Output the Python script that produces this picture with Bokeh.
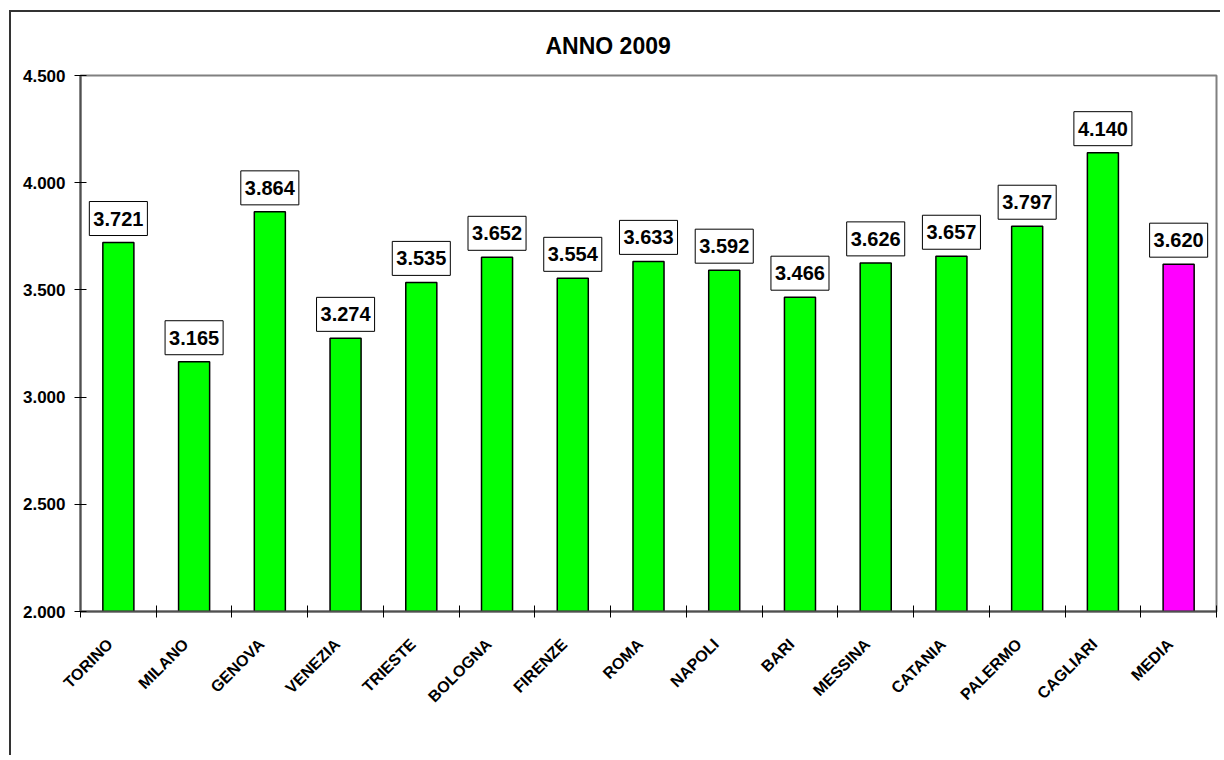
from math import pi
from bokeh.plotting import figure
from bokeh.models import Range1d, FixedTicker, Label, ColumnDataSource
from bokeh.embed import file_html
from bokeh.resources import INLINE

# ---- data ----
cities = ["TORINO", "MILANO", "GENOVA", "VENEZIA", "TRIESTE", "BOLOGNA", "FIRENZE",
          "ROMA", "NAPOLI", "BARI", "MESSINA", "CATANIA", "PALERMO", "CAGLIARI", "MEDIA"]
values = [3721, 3165, 3864, 3274, 3535, 3652, 3554, 3633, 3592, 3466, 3626, 3657, 3797, 4140, 3620]
bar_colors = ["#00FF00"] * 14 + ["#FF00FF"]
y_ticks = [2000, 2500, 3000, 3500, 4000, 4500]
chart_title = "ANNO 2009"


def it_fmt(v):
    return f"{v:,}".replace(",", ".")


FONT = "Liberation Sans"
SHIFT = 0.11  # labels sit slightly left of the bar centre, as in the original
n = len(cities)
label_pos = list(range(n))
bar_x = [i + SHIFT for i in label_pos]
src = ColumnDataSource(dict(x=bar_x, top=values, color=bar_colors, city=cities))

p = figure(width=1211, height=745,
           x_range=Range1d(-0.5 + SHIFT, n - 0.5 + SHIFT),
           y_range=Range1d(y_ticks[0], y_ticks[-1]),
           output_backend="svg", toolbar_location=None,
           min_border_left=69, min_border_right=6,
           min_border_top=63, min_border_bottom=146)
p.margin = (10, 0, 0, 9)
p.styles = {"border-left": "2px solid #333333", "border-top": "2px solid #333333"}

p.vbar(x="x", top="top", bottom=y_ticks[0], width=0.41, source=src,
       fill_color="color", line_color="black", line_width=1.5)

for xi, v in zip(bar_x, values):
    p.add_layout(Label(x=xi, y=v, text=it_fmt(v), text_align="center", text_baseline="bottom",
                       y_offset=7, text_font=FONT, text_font_size="20px",
                       text_font_style="bold", text_color="black",
                       background_fill_color="white", border_line_color="black",
                       border_line_width=1, padding=(4, 10)))

# title
p.title.text = chart_title
p.title.text_font = FONT
p.title.text_font_size = "23px"
p.title.text_font_style = "bold"
p.title.text_color = "black"
p.title.align = "left"
p.title.offset = 465
p.title.standoff = 34

# grid / outline
p.xgrid.visible = False
p.ygrid.visible = False
p.outline_line_color = "#808080"
p.outline_line_width = 2
p.background_fill_color = "white"
p.border_fill_color = "white"

# y axis
p.yaxis.ticker = FixedTicker(ticks=y_ticks)
p.yaxis.major_label_overrides = {t: it_fmt(t) for t in y_ticks}
p.yaxis.major_label_text_font = FONT
p.yaxis.major_label_text_font_size = "17px"
p.yaxis.major_label_text_font_style = "bold"
p.yaxis.major_label_text_color = "black"
p.yaxis.major_tick_in = 6
p.yaxis.major_tick_out = 6
p.yaxis.major_tick_line_color = "black"
p.yaxis.minor_tick_line_color = None
p.yaxis.axis_line_color = "#505050"
p.yaxis.axis_line_width = 2
p.yaxis.major_label_standoff = 9

# x axis
p.xaxis.ticker = FixedTicker(ticks=label_pos, minor_ticks=[i - 0.5 + SHIFT for i in range(n + 1)])
p.xaxis.major_label_overrides = {i: c for i, c in enumerate(cities)}
p.xaxis.major_label_orientation = pi / 4
p.xaxis.major_label_text_font = FONT
p.xaxis.major_label_text_font_size = "16px"
p.xaxis.major_label_text_font_style = "bold"
p.xaxis.major_label_text_color = "black"
p.xaxis.major_tick_in = 0
p.xaxis.major_tick_out = 0
p.xaxis.minor_tick_in = 6
p.xaxis.minor_tick_out = 6
p.xaxis.minor_tick_line_color = "black"
p.xaxis.axis_line_color = "#505050"
p.xaxis.axis_line_width = 2
p.xaxis.major_label_standoff = 24

open("out.html", "w").write(file_html(p, INLINE))
